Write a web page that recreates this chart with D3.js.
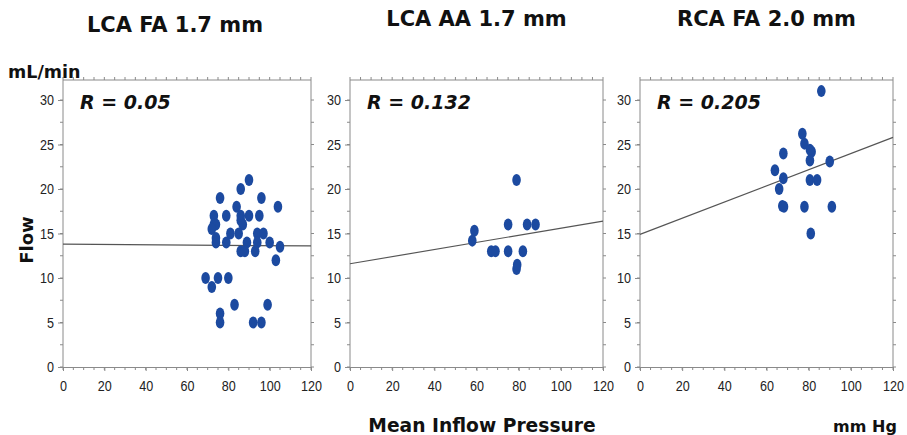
<!DOCTYPE html>
<html>
<head>
<meta charset="utf-8">
<script src="https://cdn.jsdelivr.net/npm/d3@7"></script>
<style>
  html, body { margin: 0; padding: 0; background: #fff; }
  svg { display: block; }
  .bold { font-family: "DejaVu Sans", Verdana, sans-serif; font-weight: bold; fill: #111; }
</style>
</head>
<body>
<svg id="chart" width="907" height="435"></svg>
<script>
// ---- data ----
const titles = ["LCA FA 1.7 mm", "LCA AA 1.7 mm", "RCA FA 2.0 mm"];
const rLabels = ["R = 0.05", "R = 0.132", "R = 0.205"];
const xTicks = [0, 20, 40, 60, 80, 100, 120];
const yTicks = [0, 5, 10, 15, 20, 25, 30];
const xDomain = [0, 120];
const yDomain = [0, 32.25];

// [pressure mmHg, flow mL/min]
const lcaFA = [
  [90,21],[86,20],[76,19],[96,19],[84,18],[104,18],[73,17],[79,17],[86,17],[90,17],[95,17],
  [73,16],[74,16],[72,15.5],[86,16.5],[87,16],[81,15],[85,15],[94,15],[97,15],[74,14.5],[74,14],
  [79,14],[89,14],[94,14],[100,14],[86,13],[88,13],[93,13],[105,13.5],[103,12],
  [69,10],[75,10],[80,10],[72,9],[76,6],[76,5],[83,7],[99,7],[92,5],[96,5]
];
const lcaAA = [
  [79,21],[75,16],[84,16],[88,16],[59,15.3],[58,14.2],[67,13],[69,13],[75,13],[82,13],[79,11],[79.3,11.5]
];
const rcaFA = [
  [86,31],[77,26.2],[78,25.1],[81.4,24.2],[80.6,24.4],[68,24],[90,23.1],[80.6,23.2],[64,22.1],
  [68,21.2],[80.6,21],[84,21],[66,20],[67.5,18.1],[68.3,18],[78,18],[91,18],[81,15]
];
const panelPoints = [lcaFA, lcaAA, rcaFA];
// regression line: flow at pressure 0 and at 120
const fitStart = [13.8, 11.6, 14.9];
const fitEnd = [13.6, 16.4, 25.8];

// ---- layout ----
const svg = d3.select("#chart");
const panelLeft = [63, 350, 640];
const panelRight = [311, 603, 893];
const plotBottom = 367, plotTop = 80;
const titleY = [32, 26, 26];
const axisColor = "#8a8a8a";
const dotColor = "#1c4aa0";

function narrow(sel) {
  sel.style("font-family", "'Liberation Sans', Arial, sans-serif")
    .style("font-size", "15.5px")
    .attr("fill", "#222")
    .attr("lengthAdjust", "spacingAndGlyphs")
    .attr("textLength", function () { return this.textContent.length * 7; });
}

panelPoints.forEach((pts, i) => {
  const x = d3.scaleLinear().domain(xDomain).range([panelLeft[i], panelRight[i]]);
  const y = d3.scaleLinear().domain(yDomain).range([plotBottom, plotTop]);
  const g = svg.append("g");

  // frame: top and right edges
  g.append("line").attr("x1", x(0)).attr("x2", x(120)).attr("y1", plotTop).attr("y2", plotTop).attr("stroke", axisColor);
  g.append("line").attr("x1", x(120)).attr("x2", x(120)).attr("y1", plotTop).attr("y2", plotBottom).attr("stroke", axisColor);

  const minorX = d3.range(0, 121, 5);
  const minorY = d3.range(0, 32.1, 2.5);

  // bottom axis
  const xAxis = d3.axisBottom(x).tickValues(xTicks).tickSize(4).tickPadding(8).tickFormat(d3.format("d"));
  const gx = g.append("g").attr("transform", `translate(0,${plotBottom})`).call(xAxis);
  gx.select(".domain").attr("stroke", axisColor);
  gx.selectAll(".tick line").attr("stroke", axisColor);
  gx.selectAll(".tick text").call(narrow).attr("dy", "0.8em");
  g.selectAll(null).data(minorX).enter().append("line")
    .attr("x1", d => x(d)).attr("x2", d => x(d)).attr("y1", plotBottom).attr("y2", plotBottom + 3).attr("stroke", axisColor);
  // top edge ticks
  g.selectAll(null).data(minorX).enter().append("line")
    .attr("x1", d => x(d)).attr("x2", d => x(d)).attr("y1", plotTop).attr("y2", plotTop - 3).attr("stroke", axisColor);

  // left axis
  const yAxis = d3.axisLeft(y).tickValues(yTicks).tickSize(5).tickPadding(4).tickFormat(d3.format("d"));
  const gy = g.append("g").attr("transform", `translate(${x(0)},0)`).call(yAxis);
  gy.select(".domain").attr("stroke", axisColor).attr("d", `M0,${plotTop}V${plotBottom}`);
  gy.selectAll(".tick line").attr("stroke", axisColor);
  gy.selectAll(".tick text").call(narrow);
  g.selectAll(null).data(minorY).enter().append("line")
    .attr("x1", x(0)).attr("x2", x(0) - 3).attr("y1", d => y(d)).attr("y2", d => y(d)).attr("stroke", axisColor);
  // right edge ticks
  g.selectAll(null).data(minorY).enter().append("line")
    .attr("x1", x(120)).attr("x2", x(120) + 3).attr("y1", d => y(d)).attr("y2", d => y(d)).attr("stroke", axisColor);

  // regression line
  g.append("line")
    .attr("x1", x(0)).attr("y1", y(fitStart[i]))
    .attr("x2", x(120)).attr("y2", y(fitEnd[i]))
    .attr("stroke", "#555").attr("stroke-width", 1.2);

  // points
  g.selectAll("ellipse").data(pts).enter().append("ellipse")
    .attr("cx", d => x(d[0])).attr("cy", d => y(d[1]))
    .attr("rx", 4.3).attr("ry", 6)
    .attr("fill", dotColor);

  // R label
  g.append("text").attr("class", "bold")
    .attr("x", x(0) + 17).attr("y", 109)
    .attr("font-size", 19).attr("font-style", "italic")
    .text(rLabels[i]);

  // title
  svg.append("text").attr("class", "bold")
    .attr("x", (panelLeft[i] + panelRight[i]) / 2 - (i === 0 ? 12 : 0)).attr("y", titleY[i])
    .attr("text-anchor", "middle").attr("font-size", 21)
    .text(titles[i]);
});

// shared labels
svg.append("text").attr("class", "bold").attr("x", 8).attr("y", 78).attr("font-size", 17.5).text("mL/min");
svg.append("text").attr("class", "bold").attr("font-size", 18)
  .attr("transform", "translate(33,240) rotate(-90)").attr("text-anchor", "middle").text("Flow");
svg.append("text").attr("class", "bold").attr("x", 482).attr("y", 432).attr("font-size", 18.7)
  .attr("text-anchor", "middle").text("Mean Inflow Pressure");
svg.append("text").attr("class", "bold").attr("x", 865).attr("y", 432).attr("font-size", 16)
  .attr("text-anchor", "middle").text("mm Hg");
</script>
</body>
</html>
